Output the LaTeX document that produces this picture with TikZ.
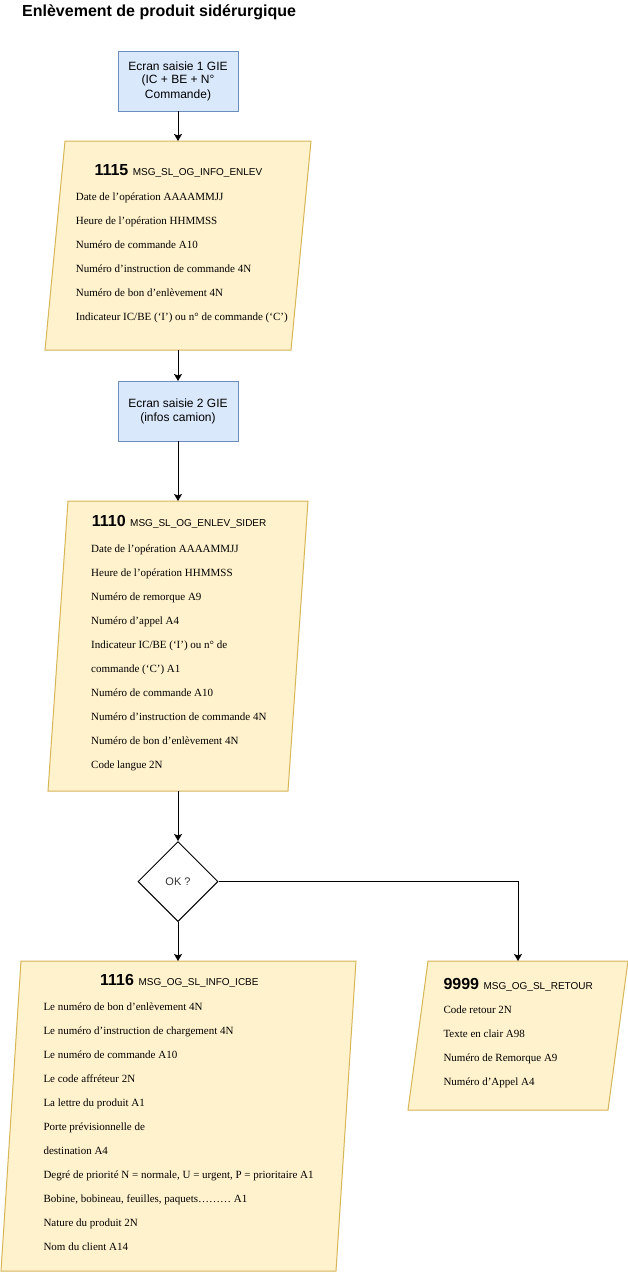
\documentclass[tikz,border=0pt]{standalone}
\usepackage{fontspec}
\setmainfont{Liberation Serif}
\setsansfont{Liberation Sans}
\usetikzlibrary{arrows.meta,shapes.geometric}
\definecolor{bluefill}{HTML}{DAE8FC}
\definecolor{bluedraw}{HTML}{6C8EBF}
\definecolor{yelfill}{HTML}{FFF2CC}
\definecolor{yeldraw}{HTML}{D6B656}
\definecolor{txtgrey}{HTML}{333333}
\newcommand\parashape[1]{\draw[para] ([xshift=20pt]#1.north west) -- (#1.north east) -- ([xshift=-20pt]#1.south east) -- (#1.south west) -- cycle;}
\newcommand\msghead[2]{\textbf{\fontsize{16}{18}\selectfont #1}\hspace{4.5pt}{\fontsize{10}{12}\selectfont #2}}
\begin{document}
\begin{tikzpicture}[x=1pt,y=-1pt,
  screen/.style={draw=bluedraw, fill=bluefill, line width=1pt, minimum width=120pt, minimum height=60pt, inner sep=0pt, outer sep=0pt, align=center, font=\sffamily\fontsize{12}{14}\selectfont},
  msgframe/.style={inner sep=0pt, outer sep=0pt, draw=none},
  para/.style={draw=yeldraw, fill=yelfill, line width=1pt},
  flow/.style={line width=1pt, -{Stealth[length=7pt,width=8pt,inset=1.5pt]}},
  item/.style={anchor=base west, font=\fontsize{11}{13}\selectfont, inner sep=0pt},
  head/.style={anchor=base west, font=\sffamily, inner sep=0pt},
  decision/.style={draw, diamond, minimum width=80pt, minimum height=80pt, inner sep=0pt, line width=1pt, font=\sffamily\fontsize{11}{13}\selectfont, text=txtgrey}
]
\useasboundingbox (0,0) rectangle (628,1272);

% title
\node[anchor=base west, font=\sffamily\bfseries\fontsize{16}{19}\selectfont, inner sep=0pt] (title) at (22,16) {Enlèvement de produit sidérurgique};

% screens
\node[screen] (s1) at (178,81.3) {\raisebox{-3pt}{\shortstack{Ecran saisie 1 GIE\\[1pt](IC + BE + N°\\[1pt]Commande)}}};
\node[screen] (s2) at (178,411) {Ecran saisie 2 GIE\\(infos camion)};

% message frames
\node[msgframe, minimum width=266pt, minimum height=209pt] (m1115) at (178,245.5) {};
\node[msgframe, minimum width=260pt, minimum height=290pt] (m1110) at (178,646) {};
\node[msgframe, minimum width=355pt, minimum height=310pt] (m1116) at (178.5,1116) {};
\node[msgframe, minimum width=220pt, minimum height=149pt] (m9999) at (518,1035.5) {};
\parashape{m1115}
\parashape{m1110}
\parashape{m1116}
\parashape{m9999}

% decision
\node[decision] (ok) at (178,881.5) {OK ?};

% 1115
\node[head] (h1115) at (94.3,175) {\msghead{1115}{MSG\_SL\_OG\_INFO\_ENLEV}};
\foreach \t [count=\i from 0] in {
  Date de l’opération AAAAMMJJ,
  Heure de l’opération HHMMSS,
  Numéro de commande A10,
  Numéro d’instruction de commande 4N,
  Numéro de bon d’enlèvement 4N,
  Indicateur IC/BE (‘I’) ou n° de commande (‘C’)}
  \node[item] (i1115-\i) at (75.7,200+24*\i) {\t};

% 1110
\node[head] (h1110) at (91.7,526.5) {\msghead{1110}{MSG\_SL\_OG\_ENLEV\_SIDER}};
\foreach \t [count=\i from 0] in {
  Date de l’opération AAAAMMJJ,
  Heure de l’opération HHMMSS,
  Numéro de remorque A9,
  Numéro d’appel A4,
  Indicateur IC/BE (‘I’) ou n° de,
  commande (‘C’) A1,
  Numéro de commande A10,
  Numéro d’instruction de commande 4N,
  Numéro de bon d’enlèvement 4N,
  Code langue 2N}
  \node[item] (i1110-\i) at (91,552.7+24*\i) {\t};

% 1116
\node[head] (h1116) at (100,985) {\msghead{1116}{MSG\_OG\_SL\_INFO\_ICBE}};
\foreach \t [count=\i from 0] in {
  Le numéro de bon d’enlèvement 4N,
  Le numéro d’instruction de chargement 4N,
  Le numéro de commande A10,
  Le code affréteur 2N,
  La lettre du produit A1,
  Porte prévisionnelle de,
  destination A4,
  {Degré de priorité N = normale, U = urgent, P = prioritaire A1},
  {Bobine, bobineau, feuilles, paquets……… A1},
  Nature du produit 2N,
  Nom du client A14}
  \node[item] (i1116-\i) at (43.3,1010+24*\i) {\t};

% 9999
\node[head] (h9999) at (443.3,989) {\msghead{9999}{MSG\_OG\_SL\_RETOUR}};
\foreach \t [count=\i from 0] in {
  Code retour 2N,
  Texte en clair A98,
  Numéro de Remorque A9,
  Numéro d’Appel A4}
  \node[item] (i9999-\i) at (443.3,1013.3+24*\i) {\t};

% connectors
\draw[flow] (s1.south) -- (m1115.north);
\draw[flow] (m1115.south) -- (s2.north);
\draw[flow] (s2.south) -- (m1110.north);
\draw[flow] (m1110.south) -- (ok.north);
\draw[flow] (ok.south) -- (ok.south |- m1116.north);
\draw[flow] (ok.east) -| (m9999.north);
\end{tikzpicture}
\end{document}
